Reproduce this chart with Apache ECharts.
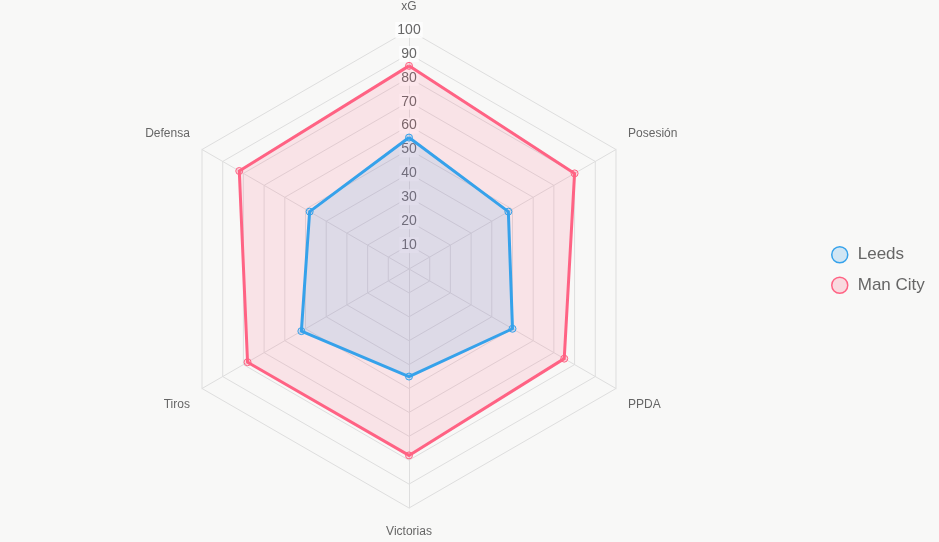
<!DOCTYPE html>
<html>
<head>
<meta charset="utf-8">
<script src="https://cdn.jsdelivr.net/npm/echarts@6/dist/echarts.min.js"></script>
<style>
  html, body { margin: 0; padding: 0; background: #f8f8f7; }
  #chart { width: 939px; height: 542px; }
</style>
</head>
<body>
<div id="chart"></div>
<script>
// indicadores en sentido horario, empezando arriba
const indicators = ['xG', 'Posesión', 'PPDA', 'Victorias', 'Tiros', 'Defensa'];
const leeds = [55, 48, 50, 45, 52, 48];
const manCity = [85, 80, 75, 78, 78, 82];
const maxValue = 100;

// echarts dibuja el radar en sentido antihorario: invertimos el orden (xG queda arriba)
const order = [0, 5, 4, 3, 2, 1];
const pick = (arr) => order.map((i) => arr[i]);

// ajuste vertical de las etiquetas para parecerse a Chart.js
const upper = ['Posesión', 'Defensa'];
const lower = ['PPDA', 'Tiros'];
const namePadding = {
  'Victorias': [1, 0, 0, 0],
};

const chart = echarts.init(document.getElementById('chart'));

const gridColor = '#dedede';

const option = {
  backgroundColor: '#f8f8f7',
  animation: false,
  legend: {
    orient: 'vertical',
    left: 826,
    top: 241,
    itemWidth: 16,
    itemHeight: 16,
    itemGap: 13,
    icon: 'circle',
    textStyle: { fontSize: 17, color: '#666', fontFamily: 'Liberation Sans', padding: [0, 0, 0, 5] },
    data: [
      { name: 'Leeds', itemStyle: { color: 'rgba(54,162,235,0.2)', borderColor: 'rgb(54,162,235)', borderWidth: 1.5 } },
      { name: 'Man City', itemStyle: { color: 'rgba(255,99,132,0.2)', borderColor: 'rgb(255,99,132)', borderWidth: 1.5 } },
    ],
  },
  radar: {
    center: [409, 269],
    radius: 239,
    startAngle: 90,
    splitNumber: 10,
    shape: 'polygon',
    nameGap: 14,
    axisName: {
      color: '#666',
      fontSize: 12,
      lineHeight: 18,
      fontFamily: 'Liberation Sans',
      formatter: (name) => {
        if (upper.includes(name)) return name + '\n ';
        if (lower.includes(name)) return ' \n' + name;
        return name;
      },
    },
    splitArea: { show: false },
    splitLine: { lineStyle: { color: gridColor, width: 1 } },
    axisLine: { lineStyle: { color: gridColor, width: 1 } },
    axisLabel: { show: false },
    indicator: pick(indicators).map((name) => {
      const ind = { name: name, min: 0, max: maxValue };
      if (namePadding[name]) ind.nameTextStyle = { padding: namePadding[name] };
      if (name === 'xG') {
        ind.axisLabel = {
          show: true,
          showMinLabel: false,
          color: '#666',
          fontSize: 14,
          fontFamily: 'Liberation Sans',
          margin: 0,
          align: 'center',
          verticalAlign: 'middle',
          rotate: 0,
          backgroundColor: 'rgba(255,255,255,0.75)',
          padding: [1, 2],
          formatter: (v) => (v === 0 ? '' : v),
        };
      }
      return ind;
    }),
  },
  series: [
    {
      type: 'radar',
      symbol: 'circle',
      symbolSize: 7,
      data: [
        {
          name: 'Man City',
          value: pick(manCity),
          lineStyle: { color: 'rgb(255,99,132)', width: 3 },
          itemStyle: { color: 'rgba(255,99,132,0.2)', borderColor: 'rgb(255,99,132)', borderWidth: 1 },
          areaStyle: { color: 'rgba(255,99,132,0.2)' },
        },
        {
          name: 'Leeds',
          value: pick(leeds),
          lineStyle: { color: 'rgb(54,162,235)', width: 3 },
          itemStyle: { color: 'rgba(54,162,235,0.2)', borderColor: 'rgb(54,162,235)', borderWidth: 1 },
          areaStyle: { color: 'rgba(54,162,235,0.2)' },
        },
      ],
    },
  ],
};

chart.setOption(option);
</script>
</body>
</html>
